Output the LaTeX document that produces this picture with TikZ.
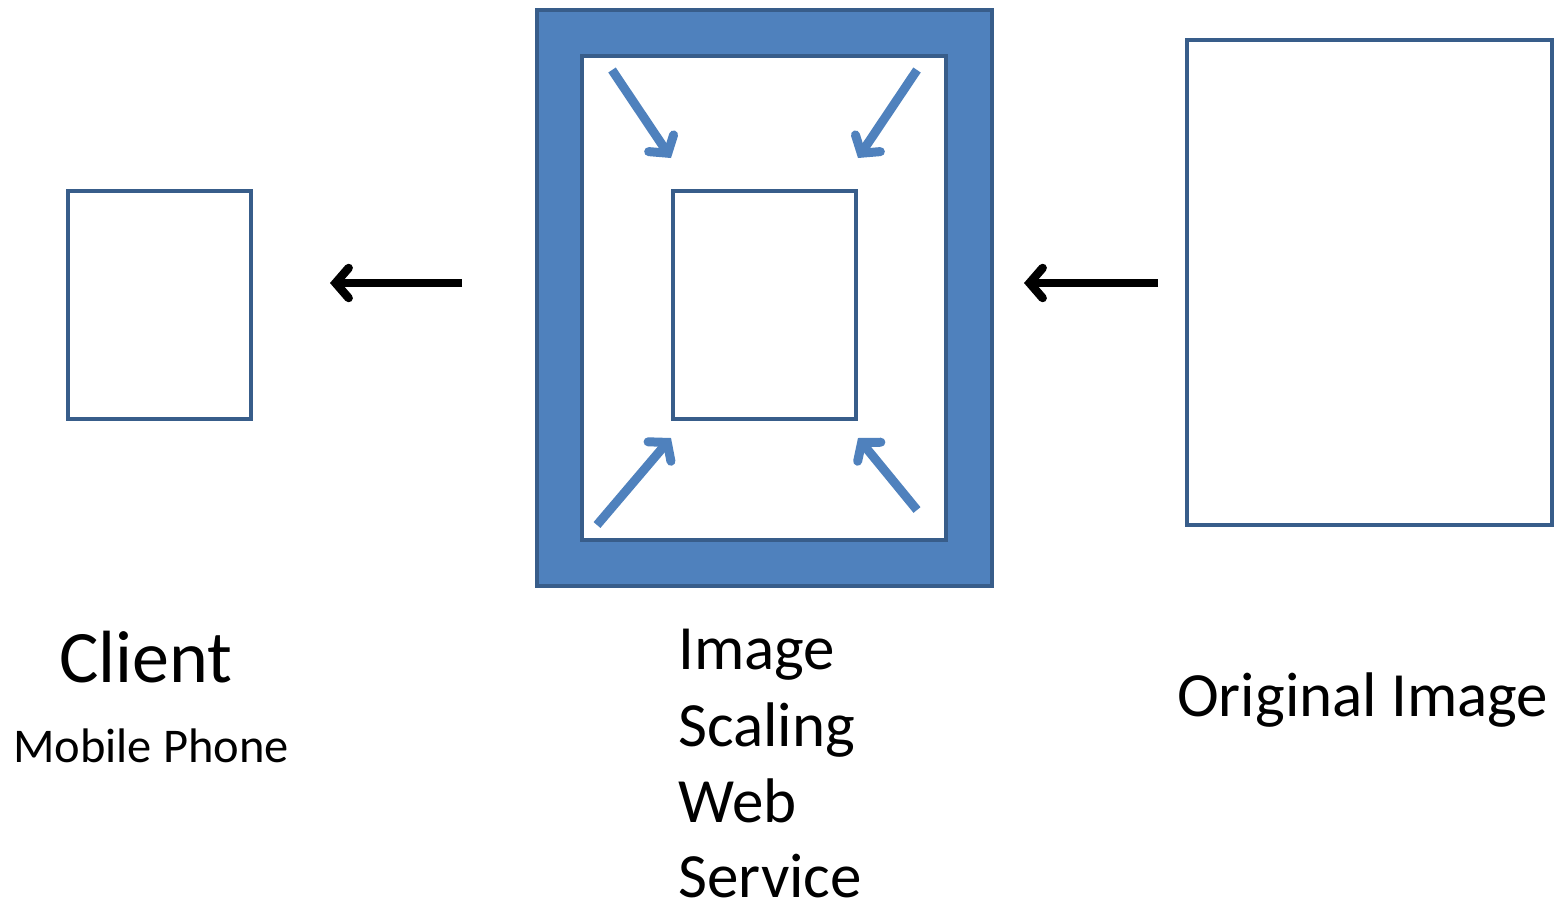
\documentclass[tikz,border=0pt]{standalone}
\usepackage{fontspec}
\setmainfont{Carlito}
\usetikzlibrary{arrows.meta}
\definecolor{boxfill}{HTML}{4F81BD}
\definecolor{boxline}{HTML}{385D8A}
\tikzset{
  frame/.style={draw=boxline, line width=4pt, fill=white},
  outerframe/.style={draw=boxline, line width=4pt, fill=boxfill},
  bluearrow/.style={draw=boxfill, line width=9pt, -{Straight Barb[length=12pt,width=30pt,line cap=round]}},
  blackarrow/.style={draw=black, line width=8.5pt, -{Straight Barb[length=13pt,width=30pt,line cap=round]}},
  lbl/.style={inner sep=0pt, anchor=base west}
}
\begin{document}
\begin{tikzpicture}[x=1pt,y=-1pt]
\useasboundingbox (0,0) rectangle (1557,908);
% boxes
\draw[frame] (68,191) rectangle (251,419);
\draw[outerframe] (537,10) rectangle (992,586);
\draw[frame] (582,56) rectangle (946,540);
\draw[frame] (673,191) rectangle (856,419);
\draw[frame] (1187,40) rectangle (1552,525);
% named points
\coordinate (a1s) at (612,70);  \coordinate (a1e) at (671,158);
\coordinate (a2s) at (917,70);  \coordinate (a2e) at (858,158);
\coordinate (a3s) at (597,525); \coordinate (a3e) at (671,438);
\coordinate (a4s) at (917,510); \coordinate (a4e) at (858,438);
\coordinate (b1s) at (462,283); \coordinate (b1e) at (330,283);
\coordinate (b2s) at (1158,283); \coordinate (b2e) at (1024,283);
\draw[bluearrow] (a1s) -- (a1e);
\draw[bluearrow] (a2s) -- (a2e);
\draw[bluearrow] (a3s) -- (a3e);
\draw[bluearrow] (a4s) -- (a4e);
\draw[blackarrow] (b1s) -- (b1e);
\draw[blackarrow] (b2s) -- (b2e);
% labels
\node[lbl, font=\fontsize{74}{80}\selectfont] (client) at (59,682) {Client};
\node[lbl, font=\fontsize{48.5}{56}\selectfont] (mobile) at (13,762) {Mobile Phone};
\node[lbl, font=\fontsize{63}{70}\selectfont] (img1) at (678,669) {Image};
\node[lbl, font=\fontsize{63}{70}\selectfont] (img2) at (678,746) {Scaling};
\node[lbl, font=\fontsize{63}{70}\selectfont] (img3) at (678,822) {Web};
\node[lbl, text depth=0pt, font=\fontsize{63}{70}\selectfont] (img4) at (678,897) {Service};
\node[lbl, font=\fontsize{63}{70}\selectfont] (orig) at (1177,716) {Original Image};
\end{tikzpicture}
\end{document}
